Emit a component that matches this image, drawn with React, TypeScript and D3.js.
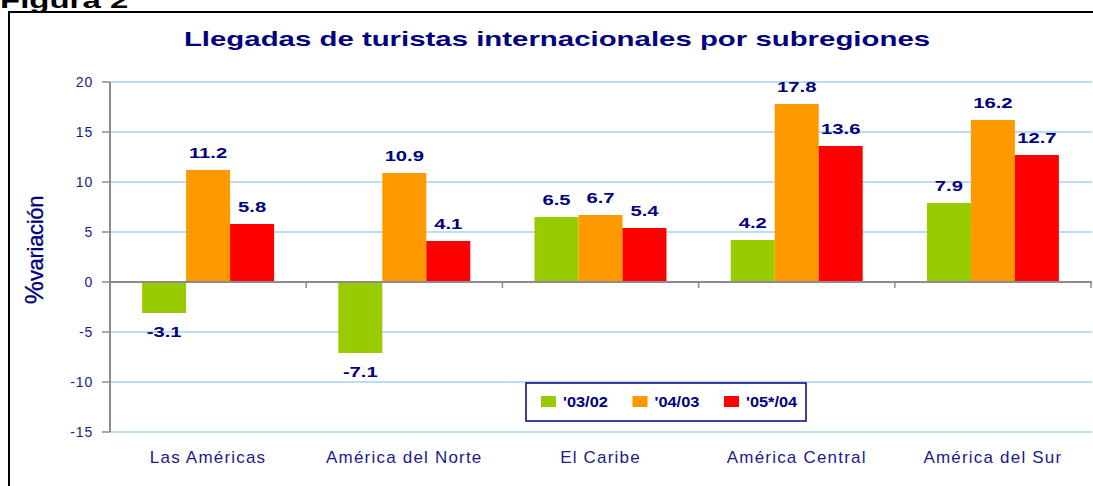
import React, { useEffect, useRef } from "react";
import * as d3 from "d3";

// Tourist arrivals by subregion: % change, three periods, grouped bars.
const categories = ["Las Américas", "América del Norte", "El Caribe", "América Central", "América del Sur"];
const seriesNames = ["'03/02", "'04/03", "'05*/04"];
const v0302 = [-3.1, -7.1, 6.5, 4.2, 7.9];
const v0403 = [11.2, 10.9, 6.7, 17.8, 16.2];
const v0504 = [5.8, 4.1, 5.4, 13.6, 12.7];
const yTicks = [20, 15, 10, 5, 0, -5, -10, -15];

const W = 1093;
const H = 486;
const FONT = "'Liberation Sans', Arial, sans-serif";
const NAVY = "#000080";
const TICK_BLUE = "#1a1a8c";

export default function App() {
  const ref = useRef<SVGSVGElement | null>(null);

  useEffect(() => {
    const svg = d3.select(ref.current);
    svg.selectAll("*").remove();

    const values = [v0302, v0403, v0504];
    const color = d3.scaleOrdinal<string, string>().domain(seriesNames).range(["#99cc00", "#ff9900", "#ff0000"]);

    const plot = { left: 110, right: 1091, top: 82, bottom: 432 };
    const x0 = d3.scaleBand().domain(categories).range([plot.left, plot.right]).padding(0);
    const x1 = d3.scaleBand().domain(seriesNames).range([0, x0.bandwidth()]).paddingInner(0).paddingOuter(0.73);
    const y = d3.scaleLinear().domain([-15, 20]).range([plot.bottom, plot.top]);

    // outer frame + figure caption
    svg.append("rect")
      .attr("x", 9).attr("y", 12).attr("width", W + 20).attr("height", H + 20)
      .attr("fill", "#fff").attr("stroke", "#000").attr("stroke-width", 2);

    svg.append("text")
      .attr("transform", "translate(0,8) scale(1.5,1)")
      .attr("font-family", FONT).attr("font-weight", "bold").attr("font-size", 22)
      .text("Figura 2");

    svg.append("text")
      .attr("transform", "translate(557,46) scale(1.4,1)")
      .attr("text-anchor", "middle")
      .attr("font-family", FONT).attr("font-weight", "bold").attr("font-size", 21)
      .attr("fill", NAVY)
      .text("Llegadas de turistas internacionales por subregiones");

    // gridlines
    svg.append("g").selectAll("line")
      .data(yTicks.filter((t) => t !== 0))
      .join("line")
      .attr("x1", plot.left).attr("x2", plot.right + 1)
      .attr("y1", (d) => y(d)).attr("y2", (d) => y(d))
      .attr("stroke", "#a6cff7").attr("stroke-width", 1.5);

    // y axis
    const yAxis = svg.append("g");
    yAxis.append("line")
      .attr("x1", plot.left).attr("x2", plot.left)
      .attr("y1", plot.top).attr("y2", plot.bottom)
      .attr("stroke", "#8c8c8c").attr("stroke-width", 2);
    yAxis.selectAll("line.tick")
      .data(yTicks)
      .join("line")
      .attr("class", "tick")
      .attr("x1", plot.left - 8).attr("x2", plot.left)
      .attr("y1", (d) => y(d)).attr("y2", (d) => y(d))
      .attr("stroke", "#8c8c8c").attr("stroke-width", 1.5);
    yAxis.selectAll("text")
      .data(yTicks)
      .join("text")
      .attr("x", plot.left - 17).attr("y", (d) => y(d)).attr("dy", "0.36em")
      .attr("text-anchor", "end")
      .attr("font-family", FONT).attr("font-size", 14).attr("letter-spacing", 0.8)
      .attr("fill", TICK_BLUE)
      .text((d) => String(d));

    const yTitle = svg.append("text")
      .attr("transform", "translate(43,250) rotate(-90)")
      .attr("text-anchor", "middle")
      .attr("font-family", FONT).attr("font-size", 22)
      .attr("fill", NAVY).attr("stroke", NAVY).attr("stroke-width", 0.3);
    yTitle.append("tspan").attr("font-size", 26).text("%");
    yTitle.append("tspan").attr("letter-spacing", -0.3).text("variación");

    // bars
    const groups = svg.append("g").selectAll("g")
      .data(categories)
      .join("g")
      .attr("transform", (d) => `translate(${x0(d)},0)`);

    seriesNames.forEach((s, si) => {
      groups.append("rect")
        .attr("x", x1(s)!)
        .attr("width", x1.bandwidth())
        .attr("y", (_, i) => y(Math.max(0, values[si][i])))
        .attr("height", (_, i) => Math.abs(y(values[si][i]) - y(0)))
        .attr("fill", color(s));

      groups.append("text")
        .attr("transform", (_, i) => {
          const v = values[si][i];
          const cx = x1(s)! + x1.bandwidth() / 2;
          const ty = v >= 0 ? y(v) - 12 : y(v) + 24;
          return `translate(${cx},${ty}) scale(1.35,1)`;
        })
        .attr("text-anchor", "middle")
        .attr("font-family", FONT).attr("font-weight", "bold").attr("font-size", 15)
        .attr("fill", NAVY)
        .text((_, i) => values[si][i].toFixed(1));
    });

    // zero line + category ticks
    const xAxis = svg.append("g");
    xAxis.append("line")
      .attr("x1", plot.left).attr("x2", plot.right + 1)
      .attr("y1", y(0)).attr("y2", y(0))
      .attr("stroke", "#8c8c8c").attr("stroke-width", 2);
    xAxis.selectAll("line.cat")
      .data(categories.map((c) => x0(c)!).concat([plot.right]))
      .join("line")
      .attr("class", "cat")
      .attr("x1", (d) => d).attr("x2", (d) => d)
      .attr("y1", y(0)).attr("y2", y(0) + 6)
      .attr("stroke", "#8c8c8c").attr("stroke-width", 1.5);

    svg.append("g").selectAll("text")
      .data(categories)
      .join("text")
      .attr("x", (d) => x0(d)! + x0.bandwidth() / 2)
      .attr("y", 463)
      .attr("text-anchor", "middle")
      .attr("font-family", FONT).attr("font-size", 17).attr("letter-spacing", 1.2)
      .attr("fill", TICK_BLUE)
      .text((d) => d);

    // legend
    const legend = svg.append("g").attr("transform", "translate(526,383)");
    legend.append("rect")
      .attr("width", 280).attr("height", 38)
      .attr("fill", "#fff").attr("stroke", NAVY).attr("stroke-width", 1.5);
    const item = legend.selectAll("g")
      .data(seriesNames)
      .join("g")
      .attr("transform", (_, i) => `translate(${15 + i * 91.5},13)`);
    item.append("rect")
      .attr("width", 15).attr("height", 11)
      .attr("fill", (d) => color(d));
    item.append("text")
      .attr("transform", "translate(22,11) scale(1.17,1)")
      .attr("font-family", FONT).attr("font-weight", "bold").attr("font-size", 14)
      .attr("fill", NAVY)
      .text((d) => d);
  }, []);

  return (
    <svg
      ref={ref}
      width={W}
      height={H}
      style={{ position: "absolute", left: 0, top: 0, background: "#fff" }}
    />
  );
}
